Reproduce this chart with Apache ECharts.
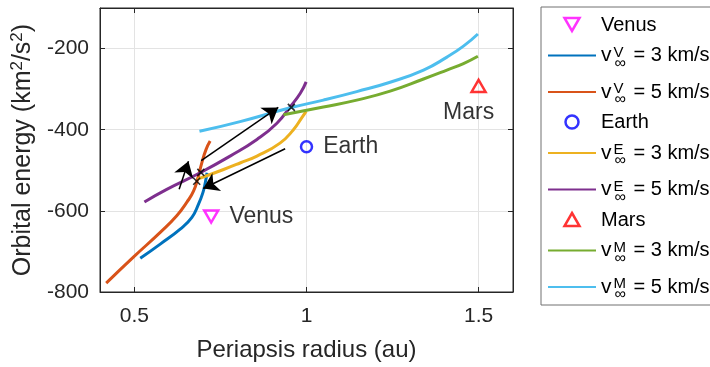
<!DOCTYPE html>
<html><head><meta charset="utf-8">
<script src="https://cdn.jsdelivr.net/npm/echarts@6/dist/echarts.min.js"></script>
<style>html,body{margin:0;padding:0;background:#fff}#c{width:710px;height:367px}</style>
</head><body><div id="c"></div>
<script>
// ---- data ----
const xTicks = [0.5, 1, 1.5];
const yTicks = [-800, -600, -400, -200];

const venusV3R = [0.517, 0.575, 0.633, 0.667, 0.686, 0.699, 0.706, 0.711];
const venusV3E = [-717, -682, -645, -616, -584, -555, -530, -506];
const venusV5R = [0.418, 0.497, 0.575, 0.623, 0.652, 0.672, 0.686, 0.696, 0.708, 0.720];
const venusV5E = [-778, -714, -653, -612, -579, -551, -514, -481, -449, -428];
const earthV3R = [0.683, 0.759, 0.807, 0.856, 0.923, 0.962, 0.986, 0.999];
const earthV3E = [-522, -498, -482, -465, -433, -400, -371, -355];
const earthV5R = [0.529, 0.594, 0.691, 0.778, 0.856, 0.914, 0.953, 0.982, 0.999];
const earthV5E = [-578, -547, -506, -465, -424, -384, -343, -310, -282];
const marsV3R = [0.933, 1.049, 1.146, 1.243, 1.340, 1.408, 1.456, 1.498];
const marsV3E = [-363, -344, -327, -305, -275, -253, -237, -219];
const marsV5R = [0.689, 0.807, 0.953, 1.049, 1.146, 1.243, 1.340, 1.408, 1.456, 1.498];
const marsV5E = [-404, -380, -346, -327, -306, -283, -253, -221, -194, -164];

const planetNames = ['Venus', 'Earth', 'Mars'];
const planetR = [0.723, 1.0, 1.5];
const planetE = [-614, -442, -292];

const crossR = [0.681, 0.693, 0.956];
const crossE = [-527, -505, -345];

const arrowFromR = [0.694, 0.938, 0.630];
const arrowFromE = [-476, -447, -547];
const arrowToR = [0.918, 0.700, 0.657];
const arrowToE = [-345, -545, -478];

const lineNames = ['V3', 'V5', 'E3', 'E5', 'M3', 'M5'];
const linePlanet = ['V', 'V', 'E', 'E', 'M', 'M'];
const lineSpeed = ['3', '5', '3', '5', '3', '5'];

// ---- chart ----
const FONT = '"Liberation Sans", Arial, Helvetica, sans-serif';
const zip = (a, b) => a.map((v, i) => [v, b[i]]);
const downTri = 'path://M0,0L10,0L5,8.66Z';
const upTri = 'path://M5,0L10,8.66L0,8.66Z';
const xMark = 'path://M0,0L10,10M10,0L0,10';

function planetSeries(i, symbol, color, size, labelPos, labelOffset) {
  return {
    type: 'scatter', name: planetNames[i], data: [[planetR[i], planetE[i]]],
    symbol: symbol, symbolSize: size, symbolKeepAspect: true,
    itemStyle: { color: 'rgba(0,0,0,0)', borderColor: color, borderWidth: 2.5 },
    label: { show: true, formatter: planetNames[i], position: labelPos, distance: 10, offset: labelOffset,
      fontSize: 23, color: '#000', fontFamily: FONT },
    emphasis: { disabled: true }, z: 3
  };
}
function curve(name, r, e, color) {
  return { type: 'line', name: name, data: zip(r, e), smooth: 0.5, symbol: 'none', showSymbol: false,
    lineStyle: { color: color, width: 3 }, itemStyle: { color: color }, emphasis: { disabled: true }, z: 2 };
}

const legendText = {};
lineNames.forEach((n, i) => {
  legendText[n] = '{v|v}{sup|' + linePlanet[i] + '}{sub|∞}{t| = ' + lineSpeed[i] + ' km/s}';
});
planetNames.forEach(n => { legendText[n] = '{m|' + n + '}'; });

const lineLegend = n => ({ name: n, itemStyle: { opacity: 0, color: 'rgba(0,0,0,0)', borderWidth: 0 } });

const chart = echarts.init(document.getElementById('c'), null, { renderer: 'canvas' });
const axisCol = '#262626';
chart.setOption({
  animation: false,
  backgroundColor: '#fff',
  textStyle: { fontFamily: FONT },
  grid: { left: 100, right: 197, top: 8, bottom: 74, show: true, borderColor: axisCol, borderWidth: 1 },
  xAxis: [{
    type: 'value', min: 0.4, max: 1.6, position: 'bottom',
    name: 'Periapsis radius (au)', nameLocation: 'middle', nameGap: 46,
    nameTextStyle: { fontSize: 24, color: axisCol, fontFamily: FONT },
    axisLine: { show: true, lineStyle: { color: axisCol } },
    axisTick: { show: true, inside: true, length: 5, customValues: xTicks, lineStyle: { color: axisCol } },
    axisLabel: { customValues: xTicks, fontSize: 21, color: axisCol, margin: 14, fontFamily: FONT },
    splitLine: { show: true, lineStyle: { color: '#e3e3e3' } }
  }, {
    type: 'value', min: 0.4, max: 1.6, position: 'top',
    axisLine: { show: true, lineStyle: { color: axisCol } },
    axisTick: { show: true, inside: true, length: 5, customValues: xTicks, lineStyle: { color: axisCol } },
    axisLabel: { show: false }, splitLine: { show: false }
  }],
  yAxis: [{
    type: 'value', min: -800, max: -100, interval: 200,
    name: 'Orbital energy (km{s|2}/s{s|2})', nameLocation: 'middle', nameGap: 52,
    nameTextStyle: { fontSize: 25, color: axisCol, fontFamily: FONT,
      rich: { s: { fontSize: 17, color: axisCol, fontFamily: FONT, padding: [0, 0, 12, 0] } } },
    axisLine: { show: true, lineStyle: { color: axisCol } },
    axisTick: { show: true, inside: true, length: 5, customValues: yTicks, lineStyle: { color: axisCol } },
    axisLabel: { customValues: yTicks, fontSize: 21, color: axisCol, margin: 11, fontFamily: FONT },
    splitLine: { show: true, lineStyle: { color: '#e3e3e3' } }
  }, {
    type: 'value', min: -800, max: -100, position: 'right',
    axisLine: { show: true, lineStyle: { color: axisCol } },
    axisTick: { show: true, inside: true, length: 5, customValues: yTicks, lineStyle: { color: axisCol } },
    axisLabel: { show: false }, splitLine: { show: false }
  }],
  legend: {
    orient: 'vertical', left: 541, top: 7,
    itemWidth: 48, itemHeight: 13, itemGap: 4.5,
    padding: [8, 30, 2, 6],
    borderColor: '#707070', borderWidth: 1,
    selectedMode: false,
    data: [
      { name: 'Venus', icon: downTri, itemStyle: { color: 'rgba(0,0,0,0)', borderColor: '#ff00ff', borderWidth: 2.5 } },
      lineLegend('V3'), lineLegend('V5'),
      { name: 'Earth', icon: 'circle', itemStyle: { color: 'rgba(0,0,0,0)', borderColor: '#0000ff', borderWidth: 2.5 } },
      lineLegend('E3'), lineLegend('E5'),
      { name: 'Mars', icon: upTri, itemStyle: { color: 'rgba(0,0,0,0)', borderColor: '#ff0000', borderWidth: 2.5 } },
      lineLegend('M3'), lineLegend('M5')
    ],
    formatter: name => legendText[name],
    textStyle: {
      fontSize: 20, color: '#000', fontFamily: FONT,
      rich: {
        m: { fontSize: 20, fontFamily: FONT, color: '#000', padding: [4, 0, 3, 0] },
        v: { fontSize: 21, fontFamily: FONT, color: '#000' },
        sup: { fontSize: 15, lineHeight: 15, width: 0, fontFamily: FONT, color: '#000', padding: [0, 0, 6, 2] },
        sub: { fontSize: 16, lineHeight: 15, fontFamily: FONT, color: '#000', padding: [16, 0, 0, 1] },
        t: { fontSize: 20, fontFamily: FONT, color: '#000', padding: [0, 0, 0, 2] }
      }
    }
  },
  series: [
    planetSeries(0, downTri, '#ff00ff', 14, 'right', [0, 0]),
    curve('V3', venusV3R, venusV3E, '#0072BD'),
    curve('V5', venusV5R, venusV5E, '#D95319'),
    planetSeries(1, 'circle', '#0000ff', 11, 'right', [0, 0]),
    curve('E3', earthV3R, earthV3E, '#EDB120'),
    curve('E5', earthV5R, earthV5E, '#7E2F8E'),
    planetSeries(2, upTri, '#ff0000', 14, 'bottom', [-10, -2]),
    curve('M3', marsV3R, marsV3E, '#77AC30'),
    curve('M5', marsV5R, marsV5E, '#4DBEEE'),
    {
      type: 'scatter', name: 'crossings', data: zip(crossR, crossE),
      symbol: xMark, symbolSize: 7,
      itemStyle: { color: 'rgba(0,0,0,0)', borderColor: '#000', borderWidth: 1.6 },
      emphasis: { disabled: true }, z: 5
    },
    {
      type: 'lines', name: 'arrows', coordinateSystem: 'cartesian2d',
      data: arrowFromR.map((r, i) => ({ coords: [[r, arrowFromE[i]], [arrowToR[i], arrowToE[i]]] })),
      symbol: ['none', 'arrow'], symbolSize: 15,
      lineStyle: { color: '#000', width: 1.5, opacity: 1, curveness: 0 },
      silent: true, z: 6
    }
  ]
});
</script>
</body></html>
